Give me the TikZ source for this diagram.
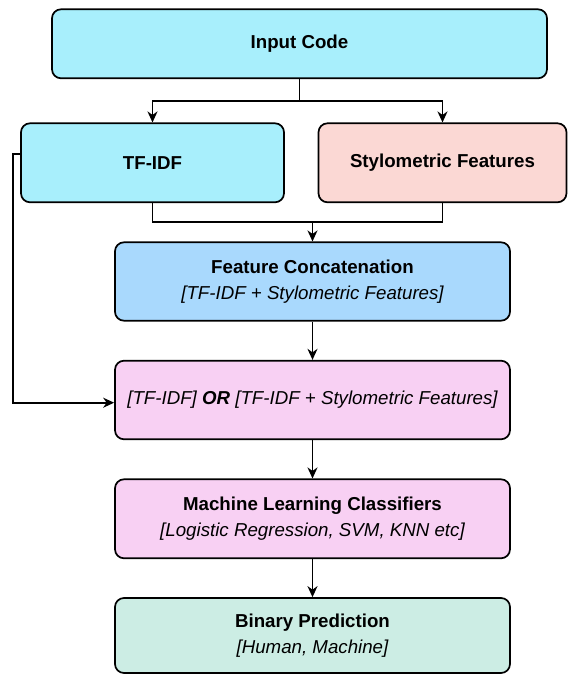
\documentclass[tikz,border=0pt]{standalone}
\usepackage{fontspec}
\setmainfont{Liberation Sans}
\usetikzlibrary{arrows.meta}
\definecolor{inputc}{HTML}{A8EFFC}
\definecolor{styc}{HTML}{FBD8D4}
\definecolor{fcc}{HTML}{A9D9FD}
\definecolor{pinkc}{HTML}{F8D0F3}
\definecolor{binc}{HTML}{CCEDE4}
\tikzset{
  box/.style={draw=black, line width=1.7pt, rounded corners=9pt, align=center,
    inner sep=0pt, font=\fontsize{18.7}{26}\selectfont},
  arr/.style={line width=1.7pt, -{Stealth[length=11pt,width=10pt,inset=3.5pt]}},
  ln/.style={line width=1.7pt},
}
\begin{document}
\begin{tikzpicture}[x=1pt,y=-1pt]
\useasboundingbox (0,0) rectangle (568,675);
\node[box, fill=inputc, minimum width=495pt, minimum height=69pt] (in) at (299.5,43.8) {\bfseries Input Code};
\node[box, fill=inputc, minimum width=263pt, minimum height=79pt] (tf) at (152.5,162.8) {\bfseries TF-IDF};
\node[box, fill=styc, minimum width=248pt, minimum height=79pt] (sty) at (442.5,162.8) {\bfseries Stylometric Features};
\node[box, fill=fcc, minimum width=395pt, minimum height=78.4pt] (fc) at (312.5,281.5) {\bfseries Feature Concatenation\\ \itshape [TF-IDF + Stylometric Features]};
\node[box, fill=pinkc, minimum width=395pt, minimum height=78.6pt] (orb) at (312.5,400) {\itshape [TF-IDF] \textbf{OR} [TF-IDF + Stylometric Features]};
\node[box, fill=pinkc, minimum width=395pt, minimum height=79pt] (ml) at (312.5,518.8) {\bfseries Machine Learning Classifiers\\ \itshape [Logistic Regression, SVM, KNN etc]};
\node[box, fill=binc, minimum width=395pt, minimum height=75pt] (bp) at (312.5,635.5) {\bfseries Binary Prediction\\ \itshape [Human, Machine]};
% branch from input
\draw[ln] (in.south) -- ++(0,22) coordinate (b);
\draw[arr] (b) -| (tf.north);
\draw[arr] (b) -| (sty.north);
% merge
\coordinate (m) at (312.5,221.7);
\draw[ln] (tf.south) |- (m) -| (sty.south);
\draw[arr] (m) -- (fc.north);
% feedback
\coordinate (fb) at (12.7,402.7);
\draw[arr] ([yshift=8.5pt]tf.west) -| (fb) -- ([yshift=-2.7pt]orb.west);
\draw[arr] (fc.south) -- (orb.north);
\draw[arr] (orb.south) -- (ml.north);
\draw[arr] (ml.south) -- (bp.north);
\end{tikzpicture}
\end{document}
